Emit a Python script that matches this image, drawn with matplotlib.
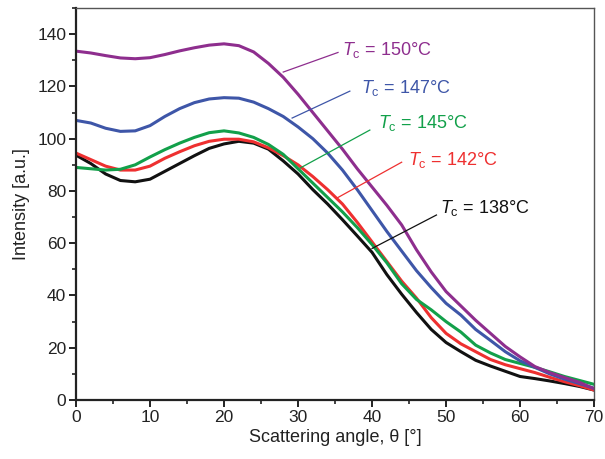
import matplotlib
matplotlib.use("Agg")
import matplotlib.pyplot as plt
from matplotlib.ticker import MultipleLocator

plt.rcParams['font.family'] = ['Liberation Sans', 'DejaVu Sans']
plt.rcParams['mathtext.fontset'] = 'custom'
plt.rcParams['mathtext.rm'] = 'Liberation Sans'
plt.rcParams['mathtext.it'] = 'Liberation Sans:italic'

angle = [0, 2, 4, 6, 8, 10, 12, 14, 16, 18, 20, 22, 24, 26, 28, 30, 32, 34,
         36, 38, 40, 42, 44, 46, 48, 50, 52, 54, 56, 58, 60, 62, 64, 66, 68, 70]

i_150 = [133.5, 132.8, 131.8, 130.9, 130.6, 131.0, 132.2, 133.6, 134.8, 135.8,
         136.3, 135.6, 133.2, 128.8, 123.5, 117.0, 110.0, 103.0, 96.0, 88.5,
         81.5, 74.5, 67.0, 57.5, 49.0, 41.5, 36.0, 30.5, 25.5, 20.5,
         16.5, 12.8, 10.5, 8.6, 6.8, 4.3]
i_147 = [107.0, 106.0, 104.0, 102.8, 103.0, 105.0, 108.5, 111.5, 113.8, 115.2,
         115.7, 115.5, 114.0, 111.5, 108.5, 104.5, 100.0, 94.5, 88.0, 80.5,
         72.5, 64.5, 57.0, 49.5, 43.0, 37.0, 32.5, 27.0, 22.8, 18.5,
         15.0, 12.5, 10.0, 8.0, 6.3, 4.5]
i_145 = [89.0, 88.5, 88.0, 88.3, 90.0, 93.0, 95.8, 98.3, 100.5, 102.3,
         103.0, 102.2, 100.5, 97.8, 94.0, 88.5, 83.0, 77.5, 72.0, 66.0,
         59.5, 52.5, 44.5, 38.5, 34.5, 30.0, 26.0, 21.0, 18.0, 15.5,
         14.0, 12.5, 10.8, 9.0, 7.5, 6.0]
i_142 = [94.5, 92.0, 89.5, 88.0, 88.0, 89.5, 92.5, 95.0, 97.3, 99.0,
         99.8, 99.8, 98.8, 96.5, 93.5, 90.0, 85.5, 80.5, 75.0, 68.0,
         60.5, 53.0, 45.5, 39.0, 31.5, 25.5, 21.5, 18.5, 15.5, 13.5,
         12.0, 10.5, 8.7, 7.0, 5.5, 3.8]
i_138 = [93.7, 90.5, 86.5, 84.0, 83.5, 84.5, 87.5, 90.5, 93.5, 96.3,
         98.0, 99.0, 98.3, 96.0, 91.5, 86.5, 80.5, 75.0, 69.0, 62.8,
         56.5, 48.0, 40.5, 33.5, 27.0, 22.0, 18.5, 15.2, 13.0, 11.0,
         9.0, 8.2, 7.3, 6.3, 5.2, 3.8]

labels = ['150', '147', '145', '142', '138']
colors = ['#8E2E8E', '#3E56A8', '#12A04A', '#EE3030', '#111111']
series = [i_150, i_147, i_145, i_142, i_138]

# leader lines and label anchors (data coordinates)
leader_start = [(28.0, 125.5), (29.2, 107.9), (30.3, 88.8), (35.2, 77.2), (40.0, 58.0)]
leader_end = [(35.4, 133.0), (37.0, 118.2), (39.7, 103.3), (44.0, 91.0), (48.7, 70.8)]
label_pos = [(35.9, 132.0), (38.5, 117.4), (40.8, 104.0), (44.9, 89.9), (49.2, 71.5)]

fig = plt.figure(figsize=(6.05, 4.59), dpi=100)
ax = fig.add_axes([0.1256, 0.1285, 0.8564, 0.854])

for y, c in zip(series[::-1], colors[::-1]):
    ax.plot(angle, y, color=c, lw=2.2, solid_joinstyle='round')

for lab, c, s, e, p in zip(labels, colors, leader_start, leader_end, label_pos):
    ax.plot([s[0], e[0]], [s[1], e[1]], color=c, lw=0.9)
    ax.text(p[0], p[1], r'$\mathit{T}_{\mathrm{c}}$' + ' = ' + lab + '\u00b0C',
            color=c, fontsize=13, ha='left', va='baseline')

ax.set_xlim(0, 70)
ax.set_ylim(0, 150)
ax.xaxis.set_major_locator(MultipleLocator(10))
ax.xaxis.set_minor_locator(MultipleLocator(5))
ax.yaxis.set_major_locator(MultipleLocator(20))
ax.yaxis.set_minor_locator(MultipleLocator(10))
ax.set_yticks([0, 20, 40, 60, 80, 100, 120, 140])

for side in ['left', 'bottom']:
    ax.spines[side].set_linewidth(1.6)
    ax.spines[side].set_color('#222222')
for side in ['top', 'right']:
    ax.spines[side].set_linewidth(1.0)
    ax.spines[side].set_color('#555555')

ax.tick_params(which='major', direction='out', length=5, width=1.4, labelsize=12.5,
               colors='#222222', pad=2)
ax.tick_params(which='minor', direction='out', length=3, width=1.2, colors='#222222')

ax.set_xlabel('Scattering angle, \u03b8 [\u00b0]', fontsize=13, color='#222222', labelpad=3)
ax.set_ylabel('Intensity [a.u.]', fontsize=13, color='#222222', labelpad=5)

fig.savefig('out.png', dpi=100)
